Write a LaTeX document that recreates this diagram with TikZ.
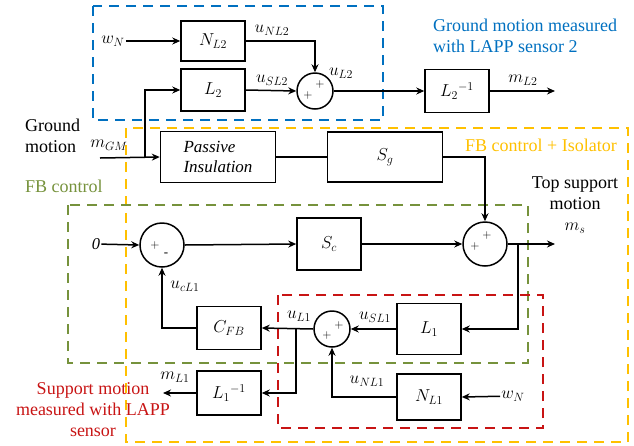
\documentclass[tikz,border=0pt]{standalone}
\usepackage{fontspec}
\setmainfont{Liberation Serif}
\usetikzlibrary{arrows.meta}
\definecolor{zoneblue}{RGB}{0,112,192}
\definecolor{zoneorange}{RGB}{255,192,0}
\definecolor{zonegreen}{RGB}{118,146,60}
\definecolor{zonered}{RGB}{200,20,20}
\begin{document}
\begin{tikzpicture}[x=1pt,y=-1pt,>={Stealth[length=8pt,width=7pt]},
    blk/.style={draw,line width=1.5pt,minimum width=64pt,minimum height=42pt,inner sep=2pt,font=\fontsize{17}{20}\selectfont},
    sumc/.style={draw,circle,line width=1.5pt,minimum size=36pt,inner sep=0pt},
    sig/.style={line width=1.5pt},
    lbl/.style={font=\fontsize{16.5}{19}\selectfont,inner sep=1pt},
    sgn/.style={font=\fontsize{13}{13}\selectfont,inner sep=0pt},
    txt/.style={font=\fontsize{18}{21}\selectfont,inner sep=0pt},
    zone/.style={line width=2.4pt,dash pattern=on 10pt off 7pt}]
    \useasboundingbox (0,0) rectangle (634,445);
    % dashed zones
    \draw[zone,zoneblue] (93,6) rectangle (383,120);
    \draw[zone,zoneorange] (126,128) rectangle (628,442);
    \draw[zone,zonegreen] (68,205) rectangle (528,363);
    \draw[zone,zonered] (278,295) rectangle (543,428);
    % blocks
    \node[blk,minimum height=40pt] (nl2) at (213,41) {$N_{L2}$};
    \node[blk] (l2) at (213,90) {$L_2$};
    \node[blk,minimum height=43pt] (l2inv) at (457,91) {$L_2{}^{-1}$};
    \node[blk,minimum width=115pt,minimum height=51pt,align=left] (pass) at (218,157) {\itshape Passive\\\itshape Insulation};
    \node[blk,minimum width=115pt,minimum height=50pt] (sg) at (385,157) {$S_g$};
    \node[blk,minimum height=52pt] (sc) at (329,244) {$S_c$};
    \node[blk,minimum height=51pt] (l1) at (429,329) {$L_1$};
    \node[blk,minimum height=43pt] (cfb) at (229,328) {$C_{FB}$};
    \node[blk,minimum height=44pt] (l1inv) at (229,393) {$L_1{}^{-1}$};
    \node[blk,minimum height=46pt] (nl1) at (429,397) {$N_{L1}$};
    % summing points
    \node[sumc] (s2) at (315,91) {};
    \node[sgn] (s2a) at ([shift={(5,-7)}]s2.center) {$+$};
    \node[sgn] (s2b) at ([shift={(-7,4)}]s2.center) {$+$};
    \node[sumc,minimum size=44pt] (s0) at (162,245) {};
    \node[sgn] (s0a) at ([shift={(-7,0)}]s0.center) {$+$};
    \node[sgn] (s0b) at ([shift={(4,10)}]s0.center) {-};
    \node[sumc,minimum size=44pt] (ss) at (485,244) {};
    \node[sgn] (ssa) at ([shift={(2,-9)}]ss.center) {$+$};
    \node[sgn] (ssb) at ([shift={(-10,2)}]ss.center) {$+$};
    \node[sumc] (s1) at (332,329) {};
    \node[sgn] (s1a) at ([shift={(7,-4)}]s1.center) {$+$};
    \node[sgn] (s1b) at ([shift={(-5,6)}]s1.center) {$+$};
    % inputs, outputs and branch points
    \node[lbl] (wn2) at (113,41) {$w_N$};
    \node[lbl] (wn1) at (513,396) {$w_N$};
    \node[lbl] (zero) at (96,244) {$\mathit{0}$};
    \coordinate (gm) at (100,158);
    \coordinate (gmtap) at (145,158);
    \coordinate (ml2) at (555,91);
    \coordinate (ms) at (555,244);
    \coordinate (stap) at (518,244);
    \coordinate (ultap) at (296,329);
    \coordinate (ml1) at (163,393);
    % connectors
    \draw[sig,->] (wn2) -- (nl2);
    \draw[sig,->] (nl2.east) -| (s2.north);
    \draw[sig,->] (l2.east) -- (s2.west);
    \draw[sig,->] (s2.east) -- (l2inv.west);
    \draw[sig,->] (l2inv.east) -- (ml2);
    \draw[sig,->] (gm) -- (pass.west);
    \draw[sig,->] (gmtap) |- (l2.west);
    \draw[sig] (pass.east) -- (sg.west);
    \draw[sig,->] (sg.east) -| (ss.north);
    \draw[sig,->] (zero) -- (s0.west);
    \draw[sig,->] (s0.east) -- (sc.west);
    \draw[sig,->] (sc.east) -- (ss.west);
    \draw[sig,->] (ss.east) -- (ms);
    \draw[sig,->] (stap) |- (l1.east);
    \draw[sig,->] (l1.west) -- (s1.east);
    \draw[sig,->] (s1.west) -- (cfb.east);
    \draw[sig,->] (cfb.west) -| (s0.south);
    \draw[sig,->] (ultap) |- (l1inv.east);
    \draw[sig,->] (l1inv.west) -- (ml1);
    \draw[sig,->] (wn1) -- (nl1.east);
    \draw[sig,->] (nl1.west) -| (s1.south);
    % signal labels
    \node[lbl] (unl2) at (272,30) {$u_{NL2}$};
    \node[lbl] (usl2) at (272,80) {$u_{SL2}$};
    \node[lbl] (ul2) at (341,73) {$u_{L2}$};
    \node[lbl] (ml2lbl) at (523,80) {$m_{L2}$};
    \node[lbl] (mgm) at (109,145) {$m_{GM}$};
    \node[lbl] (ucl1) at (185,286) {$u_{cL1}$};
    \node[lbl] (ul1) at (299,316) {$u_{L1}$};
    \node[lbl] (usl1) at (375,317) {$u_{SL1}$};
    \node[lbl] (unl1) at (367,381) {$u_{NL1}$};
    \node[lbl] (ml1lbl) at (175,377) {$m_{L1}$};
    % texts
    \node[txt,anchor=west,align=left] (ground) at (25,136) {Ground\\motion};
    \node[txt,anchor=west,zonegreen] (fbc) at (25,186) {FB control};
    \node[txt,zoneorange] (fbiso) at (541,145) {FB control + Isolator};
    \node[txt,align=center] (top) at (575,205) {Top support\\motion\\$m_s$};
    \node[txt,anchor=west,align=left,zoneblue] (gmlapp) at (433,36) {Ground motion measured\\ with LAPP sensor 2};
    \node[txt,align=center,zonered] (smlapp) at (93,410) {Support motion\\measured with LAPP\\sensor};
\end{tikzpicture}
\end{document}
